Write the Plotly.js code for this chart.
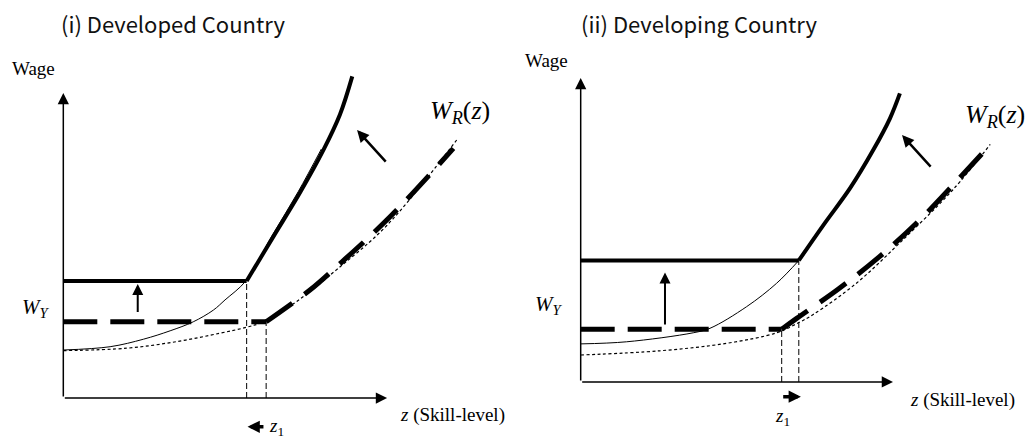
<!DOCTYPE html>
<html><head><meta charset="utf-8">
<script src="https://cdn.plot.ly/plotly-3.0.1.min.js"></script>
<style>html,body{margin:0;padding:0;background:#fff}</style>
</head><body><div id="chart" style="width:1031px;height:438px"></div>
<script>
// ---------- text ----------
var panelTitles = ["(i) Developed Country", "(ii) Developing Country"];
var yLabel = "Wage";
var xLabel = "<i>z</i> (Skill-level)";
var wyLabel = "<i>W</i><sub><i>Y</i></sub>";
var wrLabel = "<i>W</i><sub><i>R</i></sub>(<i>z</i>)";
var z1Label = "<i>z</i><sub>1</sub>";

// ---------- left panel: developed country ----------
var L_axisTipX = 10.79, L_axisTipY = 10.17;
var L_newWY = 3.9, L_newZ1 = 6.11;
var L_oldWY = 2.54, L_oldZ1 = 6.76;
var L_newCurve_z = [6.11, 7.0, 7.89, 8.67, 9.22, 9.63];
var L_newCurve_w = [3.9, 5.38, 6.85, 8.27, 9.45, 10.72];
var L_oldCurve_z = [6.76, 8.22, 9.11, 10.89, 13.0];
var L_oldCurve_w = [2.54, 3.6, 4.38, 6.04, 8.32];
var L_thin_z = [0, 1.56, 2.67, 3.56, 4.33, 5.0, 5.39, 6.08, 6.95, 7.83, 8.6];
var L_thin_w = [1.6, 1.71, 1.96, 2.24, 2.54, 2.93, 3.27, 3.9, 5.4, 6.88, 8.3];
var L_dot_z = [0, 2.11, 3.78, 5.22, 6.11, 6.67, 7.78, 9.11, 10.78, 13.11];
var L_dot_w = [1.58, 1.66, 1.88, 2.16, 2.36, 2.54, 3.22, 4.28, 5.75, 8.6];

// ---------- right panel: developing country ----------
var R_axisTipX = 10.41, R_axisTipY = 10.13;
var R_newWY = 4.05, R_newZ1 = 7.27;
var R_oldWY = 1.76, R_oldZ1 = 6.7;
var R_newCurve_z = [7.27, 8.09, 8.98, 9.75, 10.31, 10.64];
var R_newCurve_w = [4.05, 5.23, 6.46, 7.73, 8.79, 9.62];
var R_oldCurve_z = [6.7, 7.2, 8.59, 9.94, 11.28, 12.5, 13.59];
var R_oldCurve_w = [1.76, 2.12, 3.1, 4.16, 5.38, 6.66, 7.84];
var R_thin_z = [0, 1.53, 3.75, 4.31, 5.53, 6.53, 7.27];
var R_thin_w = [1.27, 1.34, 1.64, 1.79, 2.51, 3.29, 4.05];
var R_dot_z = [0, 2.64, 4.87, 6.53, 7.27, 7.75, 9.2, 10.75, 12.4, 13.65];
var R_dot_w = [0.9, 1.04, 1.29, 1.64, 1.98, 2.25, 3.3, 4.75, 6.4, 7.92];

// ---------- arrows (tail -> head) ----------
var L_upArrow_z = [2.48, 2.48], L_upArrow_w = [2.82, 3.8];
var R_upArrow_z = [2.81, 2.81], R_upArrow_w = [1.87, 3.65];
var L_shiftArrow_z = [10.79, 9.79], L_shiftArrow_w = [7.83, 8.93];
var R_shiftArrow_z = [11.71, 10.71], R_shiftArrow_w = [7.13, 8.23];
var L_z1Arrow_z = [6.72, 6.14], L_z1Arrow_w = [-0.96, -0.96];
var R_z1Arrow_z = [6.7, 7.34], R_z1Arrow_w = [-0.49, -0.49];

var traces = [];
function addLine(xs, ys, ax, width, dash, shape) {
  traces.push({
    x: xs, y: ys, xaxis: ax[0], yaxis: ax[1], mode: 'lines', hoverinfo: 'skip',
    line: {color: '#000', width: width, dash: dash || 'solid', shape: shape || 'linear', smoothing: 1}
  });
}

var ann = [];
function addArrow(xs, ys, ax, width, size) {
  ann.push({xref: ax[0], yref: ax[1], axref: ax[0], ayref: ax[1],
    x: xs[1], y: ys[1], ax: xs[0], ay: ys[0], text: '', showarrow: true,
    arrowhead: 2, arrowwidth: width, arrowsize: size, arrowcolor: '#000',
    standoff: 0, startstandoff: 0});
}

function panel(ax, P) {
  addLine(P.dotZ, P.dotW, ax, 1.2, '3px,2.5px', 'spline');
  addLine(P.thinZ, P.thinW, ax, 1, 'solid', 'spline');
  addLine([P.newZ1, P.newZ1], [0, P.newWY], ax, 1, '6px,3px');
  addLine([P.oldZ1, P.oldZ1], [0, P.oldWY], ax, 1, '6px,3px');
  addLine([0, P.oldZ1], [P.oldWY, P.oldWY], ax, 5, '34px,13px');
  addLine(P.oldCZ, P.oldCW, ax, 5, '32px,15px', 'spline');
  addLine([0, P.newZ1], [P.newWY, P.newWY], ax, 4);
  addLine(P.newCZ, P.newCW, ax, 4, 'solid', 'spline');
  addArrow([0, 0], [0, P.tipY], ax, 1.5, 1.5);
  addArrow([0, P.tipX], [0, 0], ax, 1.5, 1.5);
  addArrow(P.upZ, P.upW, ax, 2, 1.1);
  addArrow(P.shZ, P.shW, ax, 2.5, 0.95);
  addArrow(P.z1Z, P.z1W, ax, 3.5, 0.7);
}

panel(['x', 'y'], {
  dotZ: L_dot_z, dotW: L_dot_w, thinZ: L_thin_z, thinW: L_thin_w,
  newZ1: L_newZ1, newWY: L_newWY, oldZ1: L_oldZ1, oldWY: L_oldWY,
  oldCZ: L_oldCurve_z, oldCW: L_oldCurve_w, newCZ: L_newCurve_z, newCW: L_newCurve_w,
  tipX: L_axisTipX, tipY: L_axisTipY, upZ: L_upArrow_z, upW: L_upArrow_w,
  shZ: L_shiftArrow_z, shW: L_shiftArrow_w, z1Z: L_z1Arrow_z, z1W: L_z1Arrow_w
});
panel(['x2', 'y2'], {
  dotZ: R_dot_z, dotW: R_dot_w, thinZ: R_thin_z, thinW: R_thin_w,
  newZ1: R_newZ1, newWY: R_newWY, oldZ1: R_oldZ1, oldWY: R_oldWY,
  oldCZ: R_oldCurve_z, oldCW: R_oldCurve_w, newCZ: R_newCurve_z, newCW: R_newCurve_w,
  tipX: R_axisTipX, tipY: R_axisTipY, upZ: R_upArrow_z, upW: R_upArrow_w,
  shZ: R_shiftArrow_z, shW: R_shiftArrow_w, z1Z: R_z1Arrow_z, z1W: R_z1Arrow_w
});

function label(xr, yr, x, y, text, family, size, xa, color) {
  ann.push({xref: xr, yref: yr, x: x, y: y, text: text, showarrow: false,
    xanchor: xa || 'left', yanchor: 'middle',
    font: {family: family, size: size, color: color || '#000'}});
}
var SERIF = 'Liberation Serif', GOTHIC = 'Noto Sans CJK KR';

label('x', 'y', -0.13, 12.5, panelTitles[0], GOTHIC, 22, 'left', '#111');
label('x', 'y', -1.78, 11.0, yLabel, SERIF, 19);
label('x', 'y', 11.15, -0.57, xLabel, SERIF, 19);
label('x', 'y', -0.38, 3.0, wyLabel, SERIF, 21, 'right');
label('x', 'y', 12.15, 9.55, wrLabel, SERIF, 26);
label('x', 'y', 6.8, -0.96, z1Label, SERIF, 19);
label('x2', 'y2', -0.05, 11.97, panelTitles[1], GOTHIC, 22, 'left', '#111');
label('x2', 'y2', -1.92, 10.73, yLabel, SERIF, 19);
label('x2', 'y2', 10.9, -0.6, xLabel, SERIF, 19);
label('x2', 'y2', -0.52, 2.57, wyLabel, SERIF, 21, 'right');
label('x2', 'y2', 12.75, 8.85, wrLabel, SERIF, 26);
label('x2', 'y2', 6.72, -1.16, z1Label, SERIF, 19, 'center');

var hidden = {visible: false, fixedrange: true};
var layout = {
  width: 1031, height: 438, margin: {l: 0, r: 0, t: 0, b: 0},
  paper_bgcolor: '#fff', plot_bgcolor: '#fff', showlegend: false,
  xaxis: Object.assign({domain: [0, 0.5], range: [-2.11, 15.07]}, hidden),
  yaxis: Object.assign({domain: [0, 1], range: [-1.333, 13.267]}, hidden),
  xaxis2: Object.assign({domain: [0.5, 1], range: [-2.173, 15.01]}, hidden),
  yaxis2: Object.assign({domain: [0, 1], range: [-1.867, 12.733], anchor: 'x2'}, hidden),
  annotations: ann
};
Plotly.newPlot('chart', traces, layout, {staticPlot: true, displayModeBar: false});
</script></body></html>
